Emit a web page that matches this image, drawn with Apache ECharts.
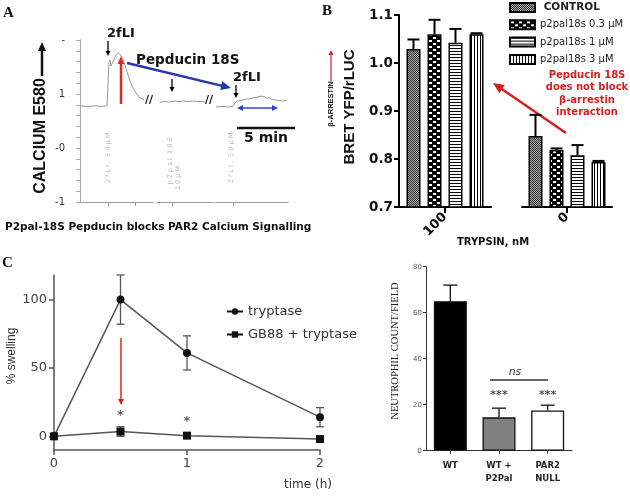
<!DOCTYPE html>
<html><head><meta charset="utf-8">
<script src="https://cdn.jsdelivr.net/npm/echarts@6/dist/echarts.min.js"></script>
<style>html,body{margin:0;padding:0;background:#fff}#c{width:630px;height:498px}</style>
</head><body><div id="c"></div>
<script>
// ---------- Panel A: calcium trace (time in min, E580) ----------
const traceA1Time = [0, 0.6, 1.3, 1.8, 2.33, 2.46, 2.5, 2.59, 2.67, 2.84, 3.1, 3.32, 3.53, 3.79, 4.05, 4.31, 4.57, 4.83, 5.09, 5.34, 5.52];
const traceA1Val  = [0.78, 0.77, 0.78, 0.77, 0.78, 0.79, 1.59, 1.63, 1.52, 1.6, 1.72, 1.76, 1.72, 1.59, 1.41, 1.24, 1.11, 1.02, 0.94, 0.91, 0.89];
const traceA2Time = [0.26, 0.7, 1.1, 1.5, 1.9, 2.3, 2.7, 3.1, 3.5, 3.9, 4.14];
const traceA2Val  = [0.85, 0.86, 0.85, 0.87, 0.86, 0.87, 0.86, 0.87, 0.86, 0.86, 0.85];
const traceA3Time = [0.09, 0.6, 1.12, 1.55, 1.72, 1.9, 2.07, 2.24, 2.41, 2.59, 2.76, 2.93, 3.1, 3.28, 3.45, 3.62, 3.79, 3.97, 4.14, 4.31, 4.48, 4.66, 4.83, 5.0, 5.17, 5.34, 5.52, 5.69, 5.86, 6.03, 6.21];
const traceA3Val  = [0.76, 0.77, 0.76, 0.77, 0.83, 0.87, 0.84, 0.88, 0.86, 0.9, 0.87, 0.91, 0.89, 0.93, 0.9, 0.94, 0.92, 0.96, 0.93, 0.95, 0.91, 0.94, 0.9, 0.93, 0.89, 0.92, 0.88, 0.91, 0.87, 0.9, 0.88];
const eventA1 = [2.42, 4.74], eventA2 = [1.29], eventA3 = [1.55];

// ---------- Panel B: BRET ----------
const bNames = ['CONTROL', 'p2pal18s 0.3 µM', 'p2pal18s 1 µM', 'p2pal18s 3 µM'];
const bCat1 = ['100'], bCat2 = ['0'];
const bVal100 = [1.029, 1.060, 1.042, 1.060];
const bErr100 = [0.020, 0.030, 0.029, 0.002];
const bVal0   = [0.848, 0.819, 0.808, 0.794];
const bErr0   = [0.044, 0.003, 0.021, 0.002];

// ---------- Panel C: swelling ----------
const cTime = [0, 0.5, 1, 2];
const cTryptase = [0, 100, 61, 14];
const cTryptaseErr = [0, 18, 12.5, 7];
const cGB88 = [0, 3.5, 0.5, -2];
const cGB88Err = [0, 3.5, 1.5, 1];
const cStars = [[0.5, 15], [1, 11]];

// ---------- Panel D: neutrophils ----------
const dCats = ['WT', 'WT +\nP2Pal', 'PAR2\nNULL'];
const dVal = [65, 14.5, 17.5];
const dErr = [7, 4, 2.3];
const dColors = ['#000000', '#808080', '#ffffff'];
const dStars = [[1, 24], [2, 24]];

// ---------- helpers ----------
function pat(w, h, draw) {
  const c = document.createElement('canvas'); c.width = w; c.height = h;
  draw(c.getContext('2d')); return { image: c, repeat: 'repeat' };
}
const pats = [
  pat(2, 2, g => { g.fillStyle = '#aaa'; g.fillRect(0, 0, 2, 2); g.fillStyle = '#333'; g.fillRect(0, 0, 1, 1); g.fillRect(1, 1, 1, 1); }),
  pat(8, 6, g => { g.fillStyle = '#000'; g.fillRect(0, 0, 8, 6); g.fillStyle = '#fff'; g.fillRect(1, 1, 3, 2); g.fillRect(5, 4, 3, 2); }),
  pat(4, 3, g => { g.fillStyle = '#fff'; g.fillRect(0, 0, 4, 3); g.fillStyle = '#000'; g.fillRect(0, 0, 4, 1); }),
  pat(3, 4, g => { g.fillStyle = '#fff'; g.fillRect(0, 0, 3, 4); g.fillStyle = '#000'; g.fillRect(0, 0, 1, 4); })
];
const zip = (a, b) => a.map((v, i) => [v, b[i]]);
function ln(x1, y1, x2, y2, color, lw) {
  return { type: 'line', shape: { x1, y1, x2, y2 }, style: { stroke: color, lineWidth: lw } };
}
function arrowHead(x1, y1, x2, y2, color, hl, hw) {
  const a = Math.atan2(y2 - y1, x2 - x1);
  const bx = x2 - hl * Math.cos(a), by = y2 - hl * Math.sin(a);
  const px = -Math.sin(a) * hw, py = Math.cos(a) * hw;
  return { type: 'polygon', shape: { points: [[x2, y2], [bx + px, by + py], [bx - px, by - py]] }, style: { fill: color } };
}
function arrow(x1, y1, x2, y2, color, lw, hl, hw, both) {
  const a = Math.atan2(y2 - y1, x2 - x1);
  const bx = x2 - hl * 0.8 * Math.cos(a), by = y2 - hl * 0.8 * Math.sin(a);
  let sx = x1, sy = y1;
  const out = [];
  if (both) { sx = x1 + hl * 0.8 * Math.cos(a); sy = y1 + hl * 0.8 * Math.sin(a); out.push(arrowHead(x2, y2, x1, y1, color, hl, hw)); }
  out.push(ln(sx, sy, bx, by, color, lw));
  out.push(arrowHead(x1, y1, x2, y2, color, hl, hw));
  return out;
}
function txt(x, y, text, font, opt) {
  opt = opt || {};
  return { type: 'text', x, y, rotation: opt.rot || 0, z: 10,
    style: { text, font, fill: opt.fill || '#111', align: opt.align || 'left', verticalAlign: opt.va || 'middle', lineHeight: opt.lh } };
}
const SANS = '"DejaVu Sans"', ARIAL = '"Liberation Sans"', SERIF = '"Liberation Serif"';

// error bar renderers
function errUpB(params, api) {
  const v = api.value(1), e = api.value(2), k = api.value(3);
  const b = api.coord([api.value(0), v]), t = api.coord([api.value(0), v + e]);
  const x = b[0] + (k - 1.5) * 21;
  return { type: 'group', children: [ln(x, b[1], x, t[1], '#000', 2), ln(x - 6, t[1], x + 6, t[1], '#000', 2)] };
}
function errBoth(params, api) {
  const x = api.value(0), y = api.value(1), e = api.value(2);
  if (!e) return null;
  const p1 = api.coord([x, y - e]), p2 = api.coord([x, y + e]);
  const c = '#555', cap = 4;
  return { type: 'group', children: [ln(p1[0], p1[1], p2[0], p2[1], c, 1.3), ln(p1[0] - cap, p1[1], p1[0] + cap, p1[1], c, 1.3), ln(p2[0] - cap, p2[1], p2[0] + cap, p2[1], c, 1.3)] };
}
function errUpD(params, api) {
  const i = api.value(0), v = api.value(1), e = api.value(2);
  const b = api.coord([i, v]), t = api.coord([i, v + e]);
  return { type: 'group', children: [ln(b[0], b[1], b[0], t[1], '#111', 1.3), ln(b[0] - 7, t[1], b[0] + 7, t[1], '#111', 1.3)] };
}

// ---------- axes ----------
const aGridTop = 40, aGridH = 162;
const grids = [
  { left: 80, top: aGridTop, width: 73, height: aGridH },
  { left: 157, top: aGridTop, width: 56, height: aGridH },
  { left: 215, top: aGridTop, width: 73, height: aGridH },
  { left: 399, top: 15, width: 92, height: 192 },
  { left: 522, top: 15, width: 90, height: 192 },
  { left: 54, top: 275, width: 266, height: 175 },
  { left: 426, top: 266.7, width: 146, height: 184 }
].map(g => Object.assign({ containLabel: false }, g));

const aLabelMap = { '2': '-', '1': '1', '0': '-0', '-1': '-1' };
function aX(i, max, ev) {
  return { type: 'value', gridIndex: i, min: 0, max, splitLine: { show: false },
    axisLine: { show: true, onZero: false, lineStyle: { color: '#999', width: 1 } },
    axisTick: { show: true, customValues: ev, length: 4, lineStyle: { color: '#999' } },
    axisLabel: { show: false } };
}
function aY(i, show) {
  return { type: 'value', gridIndex: i, min: -1, max: 2, interval: 0.2, show, splitLine: { show: false },
    axisLine: { show: true, onZero: false, lineStyle: { color: '#aaa', width: 1 } },
    axisTick: { show: true, length: 4, lineStyle: { color: '#aaa' } },
    axisLabel: { show: true, margin: 15, color: '#333', fontFamily: SANS, fontSize: 10,
      formatter: v => { const r = Math.round(v * 10) / 10; if (Math.abs(r - Math.round(r)) > 1e-6) return ''; return aLabelMap[String(Math.round(r))] || ''; } } };
}
function bX(i, cats) {
  return { type: 'category', gridIndex: i, data: cats, splitLine: { show: false },
    axisLine: { show: true, onZero: false, lineStyle: { color: '#000', width: 2 } },
    axisTick: { show: true, alignWithLabel: true, length: 6, lineStyle: { color: '#000', width: 2 } },
    axisLabel: { rotate: 45, margin: 8, color: '#111', fontFamily: SANS, fontWeight: 'bold', fontSize: 13 } };
}
function bY(i, show) {
  return { type: 'value', gridIndex: i, min: 0.7, max: 1.1, interval: 0.1, show, splitLine: { show: false },
    axisLine: { show: true, onZero: false, lineStyle: { color: '#000', width: 2 } },
    axisTick: { show: true, length: 5, lineStyle: { color: '#000', width: 2 } },
    axisLabel: { margin: 6, color: '#111', fontFamily: SANS, fontWeight: 'bold', fontSize: 13.5, formatter: v => v.toFixed(1) } };
}
const xAxes = [aX(0, 6.29, eventA1), aX(1, 4.83, eventA2), aX(2, 6.29, eventA3), bX(3, bCat1), bX(4, bCat2),
  { type: 'value', gridIndex: 5, min: 0, max: 2, interval: 1, splitLine: { show: false },
    axisLine: { show: true, onZero: false, lineStyle: { color: '#555', width: 1.5 } },
    axisTick: { show: true, length: 5, lineStyle: { color: '#555', width: 1.5 } },
    axisLabel: { margin: 7, color: '#444', fontFamily: SANS, fontSize: 13 } },
  { type: 'category', gridIndex: 6, data: dCats, splitLine: { show: false },
    axisLine: { show: true, onZero: false, lineStyle: { color: '#333', width: 1 } },
    axisTick: { show: true, alignWithLabel: true, length: 3, lineStyle: { color: '#333' } },
    axisLabel: { margin: 9, color: '#222', fontFamily: SANS, fontWeight: 'bold', fontSize: 8.5, lineHeight: 13 } }
];
const yAxes = [aY(0, true), aY(1, false), aY(2, false), bY(3, true), bY(4, false),
  { type: 'value', gridIndex: 5, min: -10, max: 118, splitLine: { show: false },
    axisLine: { show: true, onZero: false, lineStyle: { color: '#555', width: 1.5 } },
    axisTick: { show: true, customValues: [0, 50, 100], length: 5, lineStyle: { color: '#555', width: 1.5 } },
    axisLabel: { customValues: [0, 50, 100], margin: 7, color: '#444', fontFamily: SANS, fontSize: 13 } },
  { type: 'value', gridIndex: 6, min: 0, max: 80, interval: 20, splitLine: { show: false },
    axisLine: { show: true, onZero: false, lineStyle: { color: '#333', width: 1 } },
    axisTick: { show: true, length: 3, lineStyle: { color: '#333' } },
    axisLabel: { margin: 4, color: '#555', fontFamily: SANS, fontSize: 7 } }
];

// ---------- series ----------
const series = [];
const aLine = { type: 'line', showSymbol: false, symbol: 'none', lineStyle: { color: '#999', width: 1 }, z: 2 };
series.push(Object.assign({}, aLine, { name: 'A1', xAxisIndex: 0, yAxisIndex: 0, data: zip(traceA1Time, traceA1Val) }));
series.push(Object.assign({}, aLine, { name: 'A2', xAxisIndex: 1, yAxisIndex: 1, data: zip(traceA2Time, traceA2Val) }));
series.push(Object.assign({}, aLine, { name: 'A3', xAxisIndex: 2, yAxisIndex: 2, data: zip(traceA3Time, traceA3Val) }));

[[3, bVal100, bErr100], [4, bVal0, bErr0]].forEach(([ax, vals, errs]) => {
  bNames.forEach((n, k) => {
    series.push({ type: 'bar', name: n, xAxisIndex: ax, yAxisIndex: ax, data: [vals[k]], barWidth: 14, barGap: '50%',
      itemStyle: { color: pats[k], borderColor: '#000', borderWidth: 1.5 } });
  });
  series.push({ type: 'custom', name: 'errB' + ax, xAxisIndex: ax, yAxisIndex: ax, z: 5, renderItem: errUpB,
    data: vals.map((v, k) => [0, v, errs[k], k]) });
});

series.push({ type: 'custom', name: 'errC1', xAxisIndex: 5, yAxisIndex: 5, z: 3, renderItem: errBoth,
  data: cTime.map((t, i) => [t, cTryptase[i], cTryptaseErr[i]]) });
series.push({ type: 'custom', name: 'errC2', xAxisIndex: 5, yAxisIndex: 5, z: 3, renderItem: errBoth,
  data: cTime.map((t, i) => [t, cGB88[i], cGB88Err[i]]) });
series.push({ type: 'line', name: 'tryptase', xAxisIndex: 5, yAxisIndex: 5, data: zip(cTime, cTryptase), z: 4,
  symbol: 'circle', symbolSize: 8, lineStyle: { color: '#555', width: 1.5 }, itemStyle: { color: '#111' } });
series.push({ type: 'line', name: 'GB88 + tryptase', xAxisIndex: 5, yAxisIndex: 5, data: zip(cTime, cGB88), z: 4,
  symbol: 'rect', symbolSize: 8, lineStyle: { color: '#555', width: 1.5 }, itemStyle: { color: '#111' } });
series.push({ type: 'scatter', name: 'starsC', xAxisIndex: 5, yAxisIndex: 5, data: cStars, symbolSize: 1,
  itemStyle: { color: 'rgba(0,0,0,0)' },
  label: { show: true, position: 'inside', formatter: '*', color: '#333', fontFamily: SANS, fontWeight: 'bold', fontSize: 13 } });

series.push({ type: 'bar', name: 'neutro', xAxisIndex: 6, yAxisIndex: 6, barWidth: 33,
  data: dVal.map((v, i) => ({ value: v, itemStyle: { color: dColors[i], borderColor: '#111', borderWidth: 1.3 } })) });
series.push({ type: 'custom', name: 'errD', xAxisIndex: 6, yAxisIndex: 6, z: 5, renderItem: errUpD,
  data: dVal.map((v, i) => [i, v, dErr[i]]) });
series.push({ type: 'scatter', name: 'starsD', xAxisIndex: 6, yAxisIndex: 6, data: dStars, symbolSize: 1,
  itemStyle: { color: 'rgba(0,0,0,0)' },
  label: { show: true, position: 'inside', formatter: '***', color: '#222', fontFamily: SANS, fontWeight: 'bold', fontSize: 11 } });

// ---------- annotations ----------
let ann = [];
// Panel A
ann.push(txt(3, 13, 'A', 'bold 15px ' + SERIF));
ann.push(txt(107, 34, '2fLI', 'bold 13px ' + SANS));
ann = ann.concat(arrow(108, 41, 108, 56, '#000', 1.3, 5, 2.5));
ann = ann.concat(arrow(121, 104, 121, 56, '#e02828', 2.5, 8, 3.5));
ann.push(txt(136, 60, 'Pepducin 18S', 'bold 13.5px ' + SANS));
ann = ann.concat(arrow(127, 63, 231, 88, '#2b36a6', 2.5, 10, 4.5));
ann = ann.concat(arrow(172, 79, 172, 92, '#000', 1.3, 5, 2.5));
ann.push(txt(149, 100, '//', 'bold 11px ' + SANS, { align: 'center' }));
ann.push(txt(209, 100, '//', 'bold 11px ' + SANS, { align: 'center' }));
ann.push(txt(233, 78, '2fLI', 'bold 13px ' + SANS));
ann = ann.concat(arrow(236, 85, 236, 98, '#000', 1.3, 5, 2.5));
ann = ann.concat(arrow(237, 108, 278, 108, '#3344cc', 1.5, 6, 3, true));
ann.push(ln(237, 128, 295, 128, '#111', 2.5));
ann.push(txt(266, 138, '5 min', 'bold 14px ' + SANS, { align: 'center' }));
ann.push(txt(5, 227, 'P2pal-18S Pepducin blocks PAR2 Calcium Signalling', 'bold 10.5px ' + SANS));
ann.push(txt(41, 136, 'CALCIUM E580', 'bold 16px ' + ARIAL, { align: 'center', rot: Math.PI / 2 }));
ann = ann.concat(arrow(42, 76, 42, 42, '#111', 2.5, 9, 4));
ann.push(txt(108, 158, '2 f L I ,  5 0 µ M', '6.5px ' + SANS, { align: 'center', rot: Math.PI / 2, fill: '#bbb' }));
ann.push(txt(170, 161, 'p 2 p a l  1 8 S', '6.5px ' + SANS, { align: 'center', rot: Math.PI / 2, fill: '#bbb' }));
ann.push(txt(178, 178, '1 0 µ M', '6.5px ' + SANS, { align: 'center', rot: Math.PI / 2, fill: '#bbb' }));
ann.push(txt(231, 158, '2 f L I ,  5 0 µ M', '6.5px ' + SANS, { align: 'center', rot: Math.PI / 2, fill: '#bbb' }));
// Panel B
ann.push(txt(322, 11, 'B', 'bold 15px ' + SERIF));
ann.push(txt(350, 107, 'BRET YFP/rLUC', 'bold 15px ' + ARIAL, { align: 'center', rot: Math.PI / 2 }));
ann.push(txt(331, 104, 'β-ARRESTIN', 'bold 7.5px ' + ARIAL, { align: 'center', rot: Math.PI / 2 }));
ann = ann.concat(arrow(331, 81, 331, 50, '#e02020', 1.2, 5, 2.5));
ann.push(txt(587, 69, 'Pepducin 18S\ndoes not block\nβ-arrestin\ninteraction', 'bold 10px ' + SANS,
  { align: 'center', va: 'top', fill: '#d42020', lh: 12.5 }));
ann = ann.concat(arrow(566, 133, 493, 83, '#d42020', 2.5, 11, 5));
ann.push(txt(493, 242, 'TRYPSIN, nM', 'bold 10px ' + SANS, { align: 'center' }));
// Panel C
ann.push(txt(2, 263, 'C', 'bold 15px ' + SERIF));
ann.push(txt(12, 356, '% swelling', '12px ' + ARIAL, { align: 'center', rot: Math.PI / 2, fill: '#333' }));
ann = ann.concat(arrow(121, 338, 121, 405, '#e02020', 1.5, 6, 3));
ann.push(txt(308, 485, 'time (h)', '12px ' + SANS, { align: 'center', fill: '#333' }));
// Panel D
ann.push(txt(395, 351, 'NEUTROPHIL COUNT/FIELD', '10.5px ' + SERIF, { align: 'center', rot: Math.PI / 2, fill: '#222' }));
ann.push(ln(490, 380, 548, 380, '#333', 1.5));
ann.push(txt(515, 372, 'ns', 'italic 11px ' + SANS, { align: 'center', fill: '#333' }));

const chart = echarts.init(document.getElementById('c'), null, { renderer: 'canvas' });
chart.setOption({
  animation: false,
  backgroundColor: '#fff',
  textStyle: { fontFamily: SANS },
  grid: grids,
  xAxis: xAxes,
  yAxis: yAxes,
  legend: [
    { data: bNames.map(n => ({ name: n, icon: 'rect' })), orient: 'vertical', left: 509, top: 2, padding: 0, itemWidth: 25, itemHeight: 9, itemGap: 6.3,
      textStyle: { fontFamily: SANS, fontSize: 10, color: '#222', rich: { b: { fontFamily: SANS, fontSize: 10.5, fontWeight: 'bold', color: '#222' } } },
      formatter: n => n === 'CONTROL' ? '{b| CONTROL}' : n, selectedMode: false },
    { data: ['tryptase', 'GB88 + tryptase'], orient: 'vertical', left: 226, top: 305, padding: 0, itemWidth: 16, itemHeight: 8, itemGap: 10,
      lineStyle: { color: '#111' },
      textStyle: { fontFamily: SANS, fontSize: 13, color: '#333' }, selectedMode: false }
  ],
  series,
  graphic: ann
});
</script></body></html>
